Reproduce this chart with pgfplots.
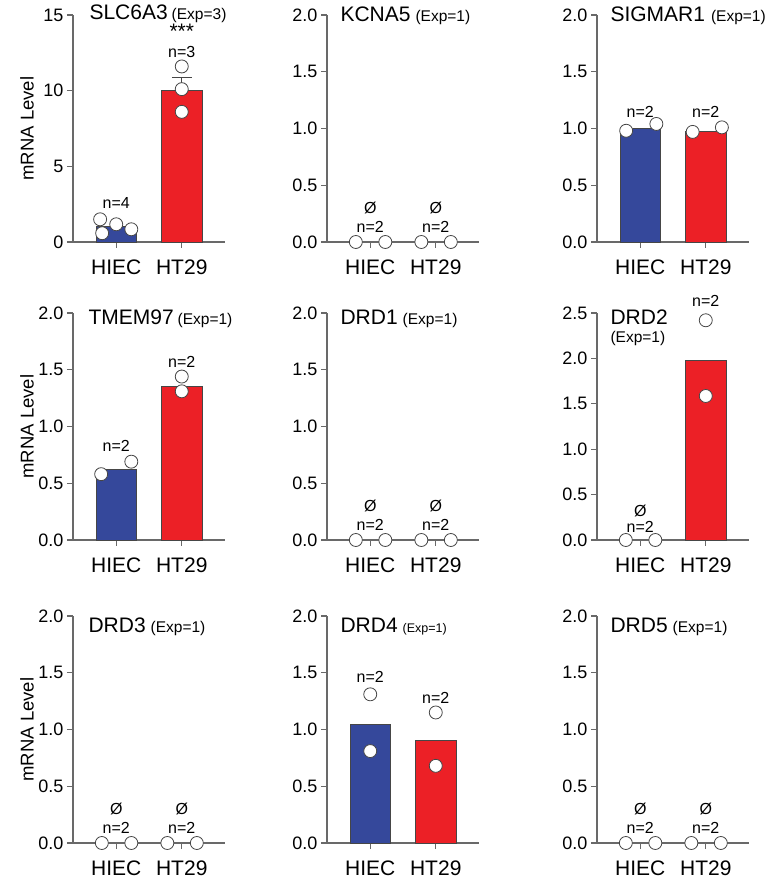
\documentclass[border=0pt]{standalone}
\usepackage{fontspec}
\setmainfont{Liberation Sans}
\usepackage{pgfplots}
\pgfplotsset{compat=1.18}
\definecolor{hblue}{RGB}{53,72,155}
\definecolor{hred}{RGB}{236,32,38}
\definecolor{axgray}{RGB}{105,105,105}
\definecolor{edgegray}{RGB}{70,70,70}
\newcommand{\fA}{\fontsize{21}{21}\selectfont}
\newcommand{\fB}{\fontsize{15.5}{15.5}\selectfont}
\newcommand{\fN}{\fontsize{16}{16}\selectfont}
\pgfplotsset{
  panel/.style={width=152pt, height=227pt, scale only axis,
    xmin=-0.66, xmax=1.66, ymin=0,
    axis x line=bottom, axis y line=left,
    axis line style={-, draw=axgray, line width=1.1pt},
    tick style={draw=axgray, line width=1.1pt},
    tick align=outside, major tick length=6pt,
    xtick={0,1}, xticklabels={HIEC,HT29},
    x tick label style={font=\fA, yshift=-8pt},
    y tick label style={font=\fontsize{18}{18}\selectfont},
    clip=false,
    /pgf/number format/assume math mode=true,
    yticklabel style={/pgf/number format/fixed, /pgf/number format/fixed zerofill, /pgf/number format/precision=1},
  },
  two/.style={ymax=2, ytick={0,0.5,1,1.5,2}},
  barB/.style={ybar, bar width=0.62, bar shift=0pt, fill=hblue, draw=edgegray, line width=0.8pt},
  barR/.style={ybar, bar width=0.62, bar shift=0pt, fill=hred, draw=edgegray, line width=0.8pt},
  pts/.style={only marks, mark=*, mark size=6.5pt, mark options={fill=white, draw=edgegray, line width=0.8pt}},
}
\newcommand{\zerolabels}{%
  \node[font=\fN] at (axis cs:0,0) [yshift=34pt] {Ø};
  \node[font=\fN] at (axis cs:0,0) [yshift=15pt] {n=2};
  \node[font=\fN] at (axis cs:1,0) [yshift=34pt] {Ø};
  \node[font=\fN] at (axis cs:1,0) [yshift=15pt] {n=2};
}
\newcommand{\mrna}{\node[rotate=90, font=\fontsize{18.5}{18.5}\selectfont] at ([xshift=-46pt]rel axis cs:0,0.5) {mRNA Level};}
\begin{document}
\begin{tikzpicture}
\useasboundingbox (0,0) rectangle (778pt,886pt);
% ---------- Row 1 ----------
\begin{axis}[panel, at={(73pt,644pt)}, anchor=south west, ymax=15, ytick={0,5,10,15},
  yticklabel style={/pgf/number format/precision=0}]
  \addplot[barB] coordinates {(0,1.0)};
  \addplot[barR, error bars/.cd, y dir=plus, y explicit,
    error bar style={draw=edgegray, line width=1pt},
    error mark options={rotate=90, mark size=10pt, draw=edgegray, line width=1pt}] coordinates {(1,10.0) +- (0,0.9)};
  \addplot[pts] coordinates {(-0.246,1.5) (-0.215,0.58) (0,1.17) (0.23,0.84)};
  \addplot[pts] coordinates {(1,11.6) (1,10.1) (1,8.6)};
  \node[anchor=base west] at (rel axis cs:0,1) [xshift=13pt, yshift=-5pt] {\fA SLC6A3\hspace{4pt}\fB (Exp=3)};
  \node[font=\fN] at (axis cs:0,1.5) [yshift=16pt] {n=4};
  \node[font=\fN, inner sep=0pt] at (axis cs:1,11.6) [yshift=14pt] {n=3};
  \node[font=\fontsize{21}{21}\selectfont, inner sep=0pt, anchor=base] at (axis cs:1,11.6) [yshift=27.5pt] {***};
  \mrna
\end{axis}
\begin{axis}[panel, two, at={(327pt,644pt)}, anchor=south west]
  \addplot[pts] coordinates {(-0.22,0) (0.23,0) (0.78,0) (1.23,0)};
  \zerolabels
  \node[anchor=base west] at (rel axis cs:0,1) [xshift=10pt, yshift=-7pt] {\fA KCNA5\hspace{5pt}\fB (Exp=1)};
\end{axis}
\begin{axis}[panel, two, at={(597pt,644pt)}, anchor=south west]
  \addplot[barB] coordinates {(0,1.0)};
  \addplot[barR] coordinates {(1,0.97)};
  \addplot[pts] coordinates {(-0.215,0.98) (0.246,1.04) (0.8,0.97) (1.246,1.01)};
  \node[font=\fN] at (axis cs:0,1.04) [yshift=12pt] {n=2};
  \node[font=\fN] at (axis cs:1,1.04) [yshift=12pt] {n=2};
  \node[anchor=base west] at (rel axis cs:0,1) [xshift=10pt, yshift=-7pt] {\fA SIGMAR1\hspace{6pt}\fB (Exp=1)};
\end{axis}
% ---------- Row 2 ----------
\begin{axis}[panel, two, at={(73pt,346pt)}, anchor=south west]
  \addplot[barB] coordinates {(0,0.625)};
  \addplot[barR] coordinates {(1,1.357)};
  \addplot[pts] coordinates {(-0.23,0.58) (0.23,0.69) (1,1.44) (1,1.31)};
  \node[font=\fN] at (axis cs:0,0.69) [yshift=16pt] {n=2};
  \node[font=\fN] at (axis cs:1,1.44) [yshift=15pt] {n=2};
  \node[anchor=base west] at (rel axis cs:0,1) [xshift=12pt, yshift=-12pt] {\fA TMEM97\hspace{4pt}\fB (Exp=1)};
  \mrna
\end{axis}
\begin{axis}[panel, two, at={(327pt,346pt)}, anchor=south west]
  \addplot[pts] coordinates {(-0.22,0) (0.23,0) (0.78,0) (1.23,0)};
  \zerolabels
  \node[anchor=base west] at (rel axis cs:0,1) [xshift=10pt, yshift=-12pt] {\fA DRD1\hspace{5pt}\fB (Exp=1)};
\end{axis}
\begin{axis}[panel, at={(597pt,346pt)}, anchor=south west, ymax=2.5, ytick={0,0.5,1,1.5,2,2.5}]
  \addplot[barR] coordinates {(1,1.98)};
  \addplot[pts] coordinates {(-0.22,0) (0.23,0) (1,2.42) (1,1.586)};
  \node[font=\fN] at (axis cs:0,0) [yshift=29pt] {Ø};
  \node[font=\fN] at (axis cs:0,0) [yshift=13pt] {n=2};
  \node[font=\fN] at (axis cs:1,2.42) [yshift=19pt] {n=2};
  \node[anchor=base west] at (rel axis cs:0,1) [xshift=10pt, yshift=-12pt] {\fA DRD2};
  \node[anchor=base west] at (rel axis cs:0,1) [xshift=10pt, yshift=-30pt] {\fB (Exp=1)};
\end{axis}
% ---------- Row 3 ----------
\begin{axis}[panel, two, at={(73pt,43pt)}, anchor=south west]
  \addplot[pts] coordinates {(-0.22,0) (0.23,0) (0.78,0) (1.23,0)};
  \zerolabels
  \node[anchor=base west] at (rel axis cs:0,1) [xshift=12pt, yshift=-17pt] {\fA DRD3\hspace{5pt}\fB (Exp=1)};
  \mrna
\end{axis}
\begin{axis}[panel, two, at={(327pt,43pt)}, anchor=south west]
  \addplot[barB] coordinates {(0,1.048)};
  \addplot[barR] coordinates {(1,0.907)};
  \addplot[pts] coordinates {(0,1.31) (0,0.81) (1,1.15) (1,0.68)};
  \node[font=\fN] at (axis cs:0,1.31) [yshift=17pt] {n=2};
  \node[font=\fN] at (axis cs:1,1.15) [yshift=15pt] {n=2};
  \node[anchor=base west] at (rel axis cs:0,1) [xshift=10pt, yshift=-17pt] {\fA DRD4\hspace{5pt}\fontsize{12.5}{12.5}\selectfont (Exp=1)};
\end{axis}
\begin{axis}[panel, two, at={(597pt,43pt)}, anchor=south west]
  \addplot[pts] coordinates {(-0.22,0) (0.23,0) (0.78,0) (1.23,0)};
  \zerolabels
  \node[anchor=base west] at (rel axis cs:0,1) [xshift=10pt, yshift=-17pt] {\fA DRD5\hspace{5pt}\fB (Exp=1)};
\end{axis}
\end{tikzpicture}
\end{document}
